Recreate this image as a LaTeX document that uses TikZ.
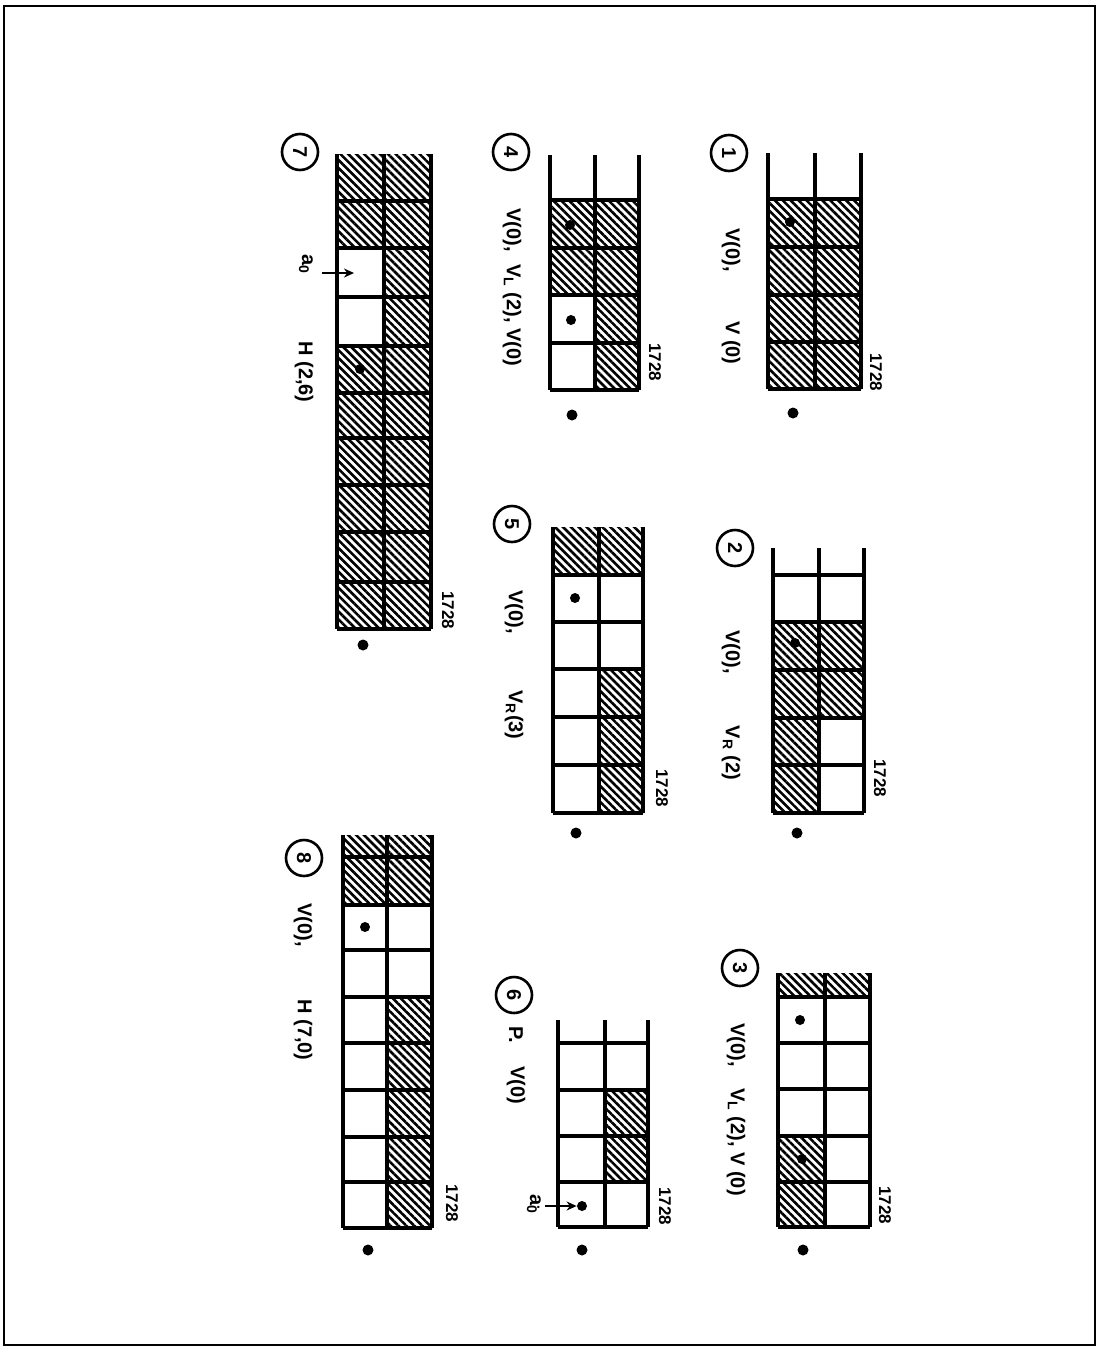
\documentclass[tikz,border=0pt]{standalone}
\usepackage{fontspec}
\setsansfont{Liberation Sans}
\usetikzlibrary{patterns.meta,arrows.meta}

\begin{document}
\begin{tikzpicture}[x=0.5pt,y=-0.5pt,
  rail/.style={line width=1.7pt},
  hatch/.style={pattern={Lines[angle=-45,distance=2.8pt,line width=1.3pt]}},
  lbl/.style={font=\sffamily\bfseries\fontsize{10}{12}\selectfont, rotate=-90, inner sep=0pt},
  num/.style={font=\sffamily\bfseries\fontsize{8.5}{10}\selectfont, rotate=-90, inner sep=0pt},
  stepno/.style={draw, circle, line width=1.3pt, minimum size=18pt, inner sep=0pt,
    font=\sffamily\bfseries\fontsize{10}{12}\selectfont, rotate=-90},
  spot/.style={circle, fill, inner sep=0pt, minimum size=5pt},
  pointer/.style={line width=0.9pt, -{Stealth[length=5pt,width=4.5pt]}}]
\useasboundingbox (0,0) rectangle (1100,1350);
\draw[line width=0.8pt] (4,6) rectangle (1095,1345);

% step 1
\path[hatch] (768,199) rectangle (861,389);
\draw[rail] (768,153) -- (768,389) (815,153) -- (815,389) (861,153) -- (861,389);
\foreach \y in {199,247,295,342,389} \draw[rail] (768,\y) -- (861,\y);
\node[stepno] (c1) at (729,153) {1};
\node[lbl] (l1a) at (731,250) {V(0),};
\node[lbl] (l1b) at (731,343) {V (0)};
\node[num] (n1) at (876,372) {1728};
\node[spot] (d1) at (790,222) {};
\node[spot, minimum size=5.5pt] (e1) at (793,413) {};

% step 2
\foreach \xa/\ya/\xb/\yb in {773/622/864/718, 773/718/819/813}
  \path[hatch] (\xa,\ya) rectangle (\xb,\yb);
\draw[rail] (773,548) -- (773,813) (819,548) -- (819,813) (864,548) -- (864,813);
\foreach \y in {575,622,670,718,765,813} \draw[rail] (773,\y) -- (864,\y);
\node[stepno] (c2) at (735,548) {2};
\node[lbl] (l2a) at (731,652) {V(0),};
\node[lbl] (l2b) at (731,753) {V\textsubscript{R} (2)};
\node[num] (n2) at (880,778) {1728};
\node[spot] (d2) at (795,643) {};
\node[spot, minimum size=5.5pt] (e2) at (797,833) {};

% step 3
\foreach \xa/\ya/\xb/\yb in {778/973/870/997, 778/1136/825/1227}
  \path[hatch] (\xa,\ya) rectangle (\xb,\yb);
\draw[rail] (778,973) -- (778,1227) (825,973) -- (825,1227) (870,973) -- (870,1227);
\foreach \y in {997,1043,1089,1136,1182,1227} \draw[rail] (778,\y) -- (870,\y);
\node[stepno] (c3) at (740,968) {3};
\node[lbl] (l3a) at (736,1045) {V(0),};
\node[lbl] (l3b) at (736,1142) {V\textsubscript{L} (2), V (0)};
\node[num] (n3) at (885,1205) {1728};
\node[spot] (d3a) at (800,1020) {};
\node[spot] (d3b) at (802,1159) {};
\node[spot, minimum size=5.5pt] (e3) at (803,1250) {};

% step 4
\foreach \xa/\ya/\xb/\yb in {550/200/639/295, 595/295/639/390}
  \path[hatch] (\xa,\ya) rectangle (\xb,\yb);
\draw[rail] (550,155) -- (550,390) (595,155) -- (595,390) (639,155) -- (639,390);
\foreach \y in {200,248,295,343,390} \draw[rail] (550,\y) -- (639,\y);
\node[stepno] (c4) at (511,152) {4};
\node[lbl] (l4a) at (512,230) {V(0),};
\node[lbl] (l4b) at (512,315) {V\textsubscript{L} (2), V(0)};
\node[num] (n4) at (655,362) {1728};
\node[spot] (d4a) at (570,225) {};
\node[spot] (d4b) at (571,320) {};
\node[spot, minimum size=5.5pt] (e4) at (572,415) {};

% step 5
\foreach \xa/\ya/\xb/\yb in {553/527/643/575, 599/669/643/813}
  \path[hatch] (\xa,\ya) rectangle (\xb,\yb);
\draw[rail] (553,527) -- (553,813) (599,527) -- (599,813) (643,527) -- (643,813);
\foreach \y in {575,622,669,717,765,813} \draw[rail] (553,\y) -- (643,\y);
\node[stepno] (c5) at (512,524) {5};
\node[lbl] (l5a) at (514,612) {V(0),};
\node[lbl] (l5b) at (514,715) {V\textsubscript{R}(3)};
\node[num] (n5) at (662,788) {1728};
\node[spot] (d5) at (575,598) {};
\node[spot, minimum size=5.5pt] (e5) at (576,833) {};

% step 6
\path[hatch] (605,1090) rectangle (648,1182);
\draw[rail] (558,1020) -- (558,1227) (605,1020) -- (605,1227) (648,1020) -- (648,1227);
\foreach \y in {1043,1090,1136,1182,1227} \draw[rail] (558,\y) -- (648,\y);
\node[stepno] (c6) at (514,995) {6};
\node[lbl] (l6a) at (516,1035) {P.};
\node[lbl] (l6b) at (516,1085) {V(0)};
\node[lbl] (a6) at (534,1204) {a\rlap{\textsuperscript{.}}\textsubscript{0}};
\node[num] (n6) at (665,1206) {1728};
\node[spot] (d6) at (582,1206) {};
\node[spot, minimum size=5.5pt] (e6) at (582,1250) {};
\coordinate (t6) at (545,1206);
\draw[pointer] (t6) -- (d6.west);

% step 7
\foreach \xa/\ya/\xb/\yb in {337/154/431/248, 384/248/431/346, 337/346/431/629}
  \path[hatch] (\xa,\ya) rectangle (\xb,\yb);
\draw[rail] (337,154) -- (337,629) (384,154) -- (384,629) (431,154) -- (431,629);
\foreach \y in {201,248,297,346,393,438,485,532,582,629} \draw[rail] (337,\y) -- (431,\y);
\node[stepno] (c7) at (300,152) {7};
\node[lbl] (a7) at (306,264) {a\textsubscript{0}};
\node[lbl] (l7) at (304,372) {H (2,6)};
\node[num] (n7) at (448,610) {1728};
\node[spot] (d7) at (360,369) {};
\node[spot, minimum size=5.5pt] (e7) at (363,645) {};
\coordinate (t7) at (322,273);
\coordinate (h7) at (354,273);
\draw[pointer] (t7) -- (h7);

% step 8
\foreach \xa/\ya/\xb/\yb in {343/835/432/905, 387/997/432/1228}
  \path[hatch] (\xa,\ya) rectangle (\xb,\yb);
\draw[rail] (343,835) -- (343,1228) (387,835) -- (387,1228) (432,835) -- (432,1228);
\foreach \y in {857,905,950,997,1043,1090,1137,1182,1228} \draw[rail] (343,\y) -- (432,\y);
\node[stepno] (c8) at (304,858) {8};
\node[lbl] (l8a) at (303,925) {V(0),};
\node[lbl] (l8b) at (303,1030) {H (7,0)};
\node[num] (n8) at (452,1203) {1728};
\node[spot] (d8) at (365,927) {};
\node[spot, minimum size=5.5pt] (e8) at (368,1250) {};
\end{tikzpicture}
\end{document}
